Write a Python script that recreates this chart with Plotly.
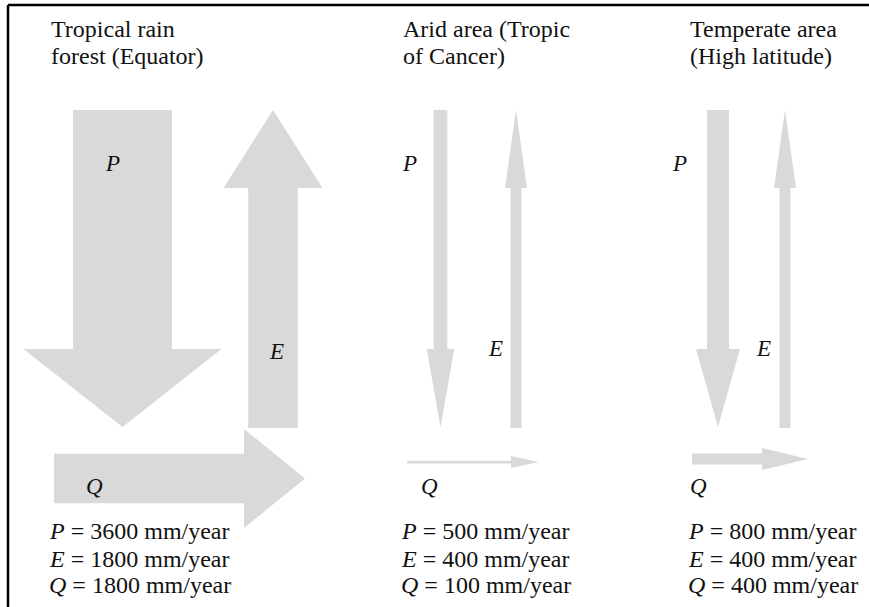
import plotly.graph_objects as go

# ---- data ----
region_lines = [["Tropical rain", "forest (Equator)"],
                ["Arid area (Tropic", "of Cancer)"],
                ["Temperate area", "(High latitude)"]]
P_vals = [3600, 500, 800]   # precipitation, mm/year
E_vals = [1800, 400, 400]   # evaporation, mm/year
Q_vals = [1800, 100, 400]   # runoff, mm/year

# ---- layout / style constants (diagram units = pixels) ----
W, H = 869, 607
K = 0.0275                     # shaft width per mm/year
FILL = "#d9d9d9"
FONT = "Liberation Serif"
TXT = "#111111"
FS = 24

col_text_x = [49, 401, 688]
title_y = [28.5, 55.5]
body_y = [530.5, 558.5, 584.5]
P_cx = [122.5, 440.5, 718]
P_top, P_tip, P_head = 110, 427, 78
E_cx = [273, 516, 785]
E_bottom, E_tip, E_head = 428, 110, 78
Q_cy = [478.5, 462, 459]
Q_start = [54, 407, 692]
Q_tip = [305, 539, 808]
Q_head = [61, 28, 46]
P_lab = [(112, 163), (409, 163), (679, 163)]
E_lab = [(276, 351), (495, 348), (763, 348)]
Q_lab = [(94, 486), (429, 486), (698, 486)]


def arrow(x0, y0, x1, y1, w, hl, hw):
    dx, dy = x1 - x0, y1 - y0
    L = (dx * dx + dy * dy) ** 0.5
    ux, uy = dx / L, dy / L
    nx, ny = -uy, ux
    bx, by = x1 - ux * hl, y1 - uy * hl
    pts = [
        (x0 + nx * w / 2, y0 + ny * w / 2),
        (bx + nx * w / 2, by + ny * w / 2),
        (bx + nx * hw / 2, by + ny * hw / 2),
        (x1, y1),
        (bx - nx * hw / 2, by - ny * hw / 2),
        (bx - nx * w / 2, by - ny * w / 2),
        (x0 - nx * w / 2, y0 - ny * w / 2),
        (x0 + nx * w / 2, y0 + ny * w / 2),
    ]
    return [p[0] for p in pts], [p[1] for p in pts]


def head_w(w):
    return max(2 * w, 12)


fig = go.Figure()


def add_poly(xs, ys):
    fig.add_trace(go.Scatter(x=xs, y=ys, mode="lines", fill="toself",
                             fillcolor=FILL, line=dict(width=0, color=FILL),
                             hoverinfo="skip", showlegend=False))


for i in range(3):
    w = P_vals[i] * K
    add_poly(*arrow(P_cx[i], P_top, P_cx[i], P_tip, w, P_head, head_w(w)))
    w = E_vals[i] * K
    add_poly(*arrow(E_cx[i], E_bottom, E_cx[i], E_tip, w, E_head, head_w(w)))
    w = Q_vals[i] * K
    add_poly(*arrow(Q_start[i], Q_cy[i], Q_tip[i], Q_cy[i], w, Q_head[i], head_w(w)))

ann = []
for i in range(3):
    for line, y in zip(region_lines[i], title_y):
        ann.append(dict(x=col_text_x[i], y=y, text=line, xanchor="left", yanchor="middle",
                        align="left", showarrow=False, font=dict(family=FONT, size=FS, color=TXT)))
    body = [f"<i>P</i> = {P_vals[i]} mm/year", f"<i>E</i> = {E_vals[i]} mm/year",
            f"<i>Q</i> = {Q_vals[i]} mm/year"]
    for line, y in zip(body, body_y):
        ann.append(dict(x=col_text_x[i] - 2, y=y, text=line, xanchor="left", yanchor="middle",
                        align="left", showarrow=False, font=dict(family=FONT, size=FS, color=TXT)))
    for (lx, ly), s in ((P_lab[i], "P"), (E_lab[i], "E"), (Q_lab[i], "Q")):
        ann.append(dict(x=lx, y=ly, text=f"<i>{s}</i>", showarrow=False,
                        font=dict(family=FONT, size=23, color=TXT)))

shapes = [
    dict(type="line", xref="x", yref="y", x0=8, x1=W + 5, y0=5, y1=5,
         line=dict(color="black", width=2.5)),
    dict(type="line", xref="x", yref="y", x0=8, x1=8, y0=5, y1=H + 5,
         line=dict(color="black", width=2.5)),
]

fig.update_layout(
    width=W, height=H, margin=dict(l=0, r=0, t=0, b=0),
    paper_bgcolor="white", plot_bgcolor="white",
    xaxis=dict(range=[0, W], visible=False, fixedrange=True),
    yaxis=dict(range=[H, 0], visible=False, fixedrange=True),
    annotations=ann, shapes=shapes, showlegend=False,
)

fig.write_html("out.html", config={"displayModeBar": False},
               post_script="document.body.style.margin='0';document.body.style.overflow='hidden';")
